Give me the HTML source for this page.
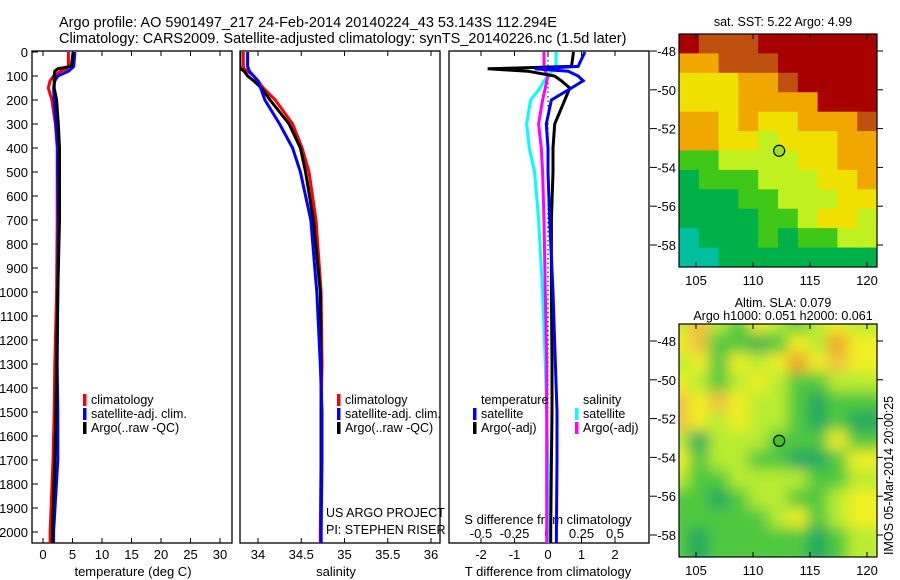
<!DOCTYPE html>
<html><head><meta charset="utf-8"><style>
body{margin:0;background:#fff;}
svg{display:block;font-family:"Liberation Sans",sans-serif;}
</style></head><body>
<svg id="fig" width="900" height="580" viewBox="0 0 900 580">
<rect width="900" height="580" fill="#fff"/>
<text x="59" y="27" font-size="14.5">Argo profile: AO 5901497_217 24-Feb-2014 20140224_43 53.143S 112.294E</text>
<text x="59" y="43" font-size="14.5">Climatology: CARS2009. Satellite-adjusted climatology: synTS_20140226.nc (1.5d later)</text>
<defs>
<clipPath id="c1"><rect x="32" y="51" width="200" height="492"/></clipPath>
<clipPath id="c2"><rect x="240" y="51" width="200" height="492"/></clipPath>
<clipPath id="c3"><rect x="449" y="51" width="200" height="492"/></clipPath>
<clipPath id="m1"><rect x="679" y="34" width="198" height="233"/></clipPath>
<clipPath id="m2"><rect x="679" y="324" width="198" height="233"/></clipPath>
<filter id="bl" x="-5%" y="-5%" width="110%" height="110%"><feGaussianBlur stdDeviation="7"/></filter>
</defs>
<g id="p1"></g>
<g id="p2"></g>
<g id="p3"></g>
<g id="maps"></g>
</svg>
<script>
const depths=[0,60,70,80,100,120,150,200,300,400,500,700,1000,1300,1500,1700,2000,2050];
const tempClim=[4.3,4.3,4.0,3.0,1.8,1.2,0.9,1.5,2.1,2.4,2.4,2.4,2.3,2.0,1.9,1.7,1.2,1.2];
const tempArgo=[5.1,4.8,2.5,2.0,1.9,1.9,1.9,2.3,2.6,2.8,2.8,2.8,2.5,2.3,2.2,2.0,1.6,1.6];
const tempSat=[5.4,5.2,4.8,4.3,2.5,2.0,1.8,1.9,2.2,2.5,2.5,2.6,2.5,2.4,2.5,2.5,1.8,1.8];
const salClim=[33.83,33.83,33.84,33.88,33.95,34.0,34.06,34.2,34.4,34.51,34.59,34.67,34.73,34.74,34.73,34.73,34.72,34.72];
const salArgo=[33.79,33.79,33.8,33.84,33.88,33.95,34.04,34.14,34.36,34.49,34.55,34.64,34.72,34.73,34.73,34.73,34.73,34.73];
const salSat=[33.88,33.88,33.89,33.9,33.95,34.0,34.03,34.08,34.25,34.4,34.49,34.61,34.68,34.72,34.74,34.74,34.73,34.73];
const dTArgo=[0.76,0.7,-1.8,-0.6,0.2,0.4,0.65,0.5,0.2,0.15,0.15,0.1,0.1,0.12,0.12,0.1,0.08,0.08];
const dTSat=[1.1,0.9,-0.4,0.6,0.9,1.05,0.7,0.1,-0.05,0.0,0.0,0.05,0.15,0.22,0.27,0.27,0.25,0.25];
const dSSat=[0.06,0.06,0.04,0.03,0.0,-0.03,-0.06,-0.13,-0.16,-0.14,-0.1,-0.07,-0.04,-0.02,-0.01,0,0.01,0.01];
const dSArgo=[-0.03,-0.03,-0.02,-0.02,0.0,-0.01,-0.02,-0.04,-0.07,-0.05,-0.04,-0.03,-0.02,-0.01,-0.01,-0.01,-0.01,-0.01];
const depthTicks=[0,100,200,300,400,500,600,700,800,900,1000,1100,1200,1300,1400,1500,1600,1700,1800,1900,2000];
const tempTicks=[0,5,10,15,20,25,30];
const salTicks=[34,34.5,35,35.5,36];
const salTickLabels=["34","34.5","35","35.5","36"];
const dTTicks=[-2,-1,0,1,2];
const dSTicks=[-0.5,-0.25,0,0.25,0.5];
const latTicks=[-48,-50,-52,-54,-56,-58];
const lonTicks=[105,110,115,120];
const sstGrid=["RrrrRRRRRR","oorrrRRRRR","yyyoorRRRR","yyyooooRRR","ooyoyyooor","ooyylyyyoo","ggllllyyoo","Gggglllyyo","GGGgglllyy","GGGGgglyyl","cGGGgGggll","ccGGGGGGGG"];
const slaGrid=["lolgylglyl","yoggmgylOy","lygylyOyoy","ylglylggll","oyoyllgGgg","oylyllgGgG","lGlllgggyg","ygllggGGgy","lggllllggl","ggGgllggly","ggggglygly","gGgggggGgl"];

const svg=document.getElementById('fig');
const NS='http://www.w3.org/2000/svg';
const Y=d=>52+d*0.24;
const xT=t=>43+t*5.9;
const xS=s=>258+(s-34)*86.5;
const xD=t=>548+t*33.5;
const xDS=s=>548+s*134;
function mk(tag,attrs,parent){const e=document.createElementNS(NS,tag);for(const k in attrs)e.setAttribute(k,attrs[k]);parent.appendChild(e);return e;}
function txt(x,y,s,size,anchor,parent){const t=mk('text',{x:x,y:y,'font-size':size,'text-anchor':anchor||'start'},parent);t.textContent=s;return t;}
function stepPath(vals,fx){let d='';for(let i=0;i<depths.length;i++){const x=fx(vals[i]).toFixed(1),y=Y(depths[i]).toFixed(1);d+=(i?'L':'M')+x+','+y;}return d;}
function series(parent,vals,fx,color,name,clip){const p=mk('path',{d:stepPath(vals,fx),fill:'none',stroke:color,'stroke-width':3,'clip-path':'url(#'+clip+')'},parent);}

const p1=document.getElementById('p1'),p2=document.getElementById('p2'),p3=document.getElementById('p3');
[[p1,32,'frame-temperature'],[p2,240,'frame-salinity'],[p3,449,'frame-difference']].forEach(([g,x,n])=>{const r=mk('rect',{x:x,y:51,width:200,height:492,fill:'none',stroke:'#000','stroke-width':1.3},g);});
depthTicks.forEach(d=>{mk('line',{x1:32,x2:38,y1:Y(d),y2:Y(d),stroke:'#000'},p1);const t=txt(28,Y(d)+5,String(d),13,'end',p1);});
tempTicks.forEach(v=>{const x=xT(v);mk('line',{x1:x,x2:x,y1:51,y2:56,stroke:'#000'},p1);mk('line',{x1:x,x2:x,y1:538,y2:543,stroke:'#000'},p1);const t=txt(x,559,String(v),13,'middle',p1);});
const xt1=txt(133,576,'temperature (deg C)',13,'middle',p1);
salTicks.forEach((v,i)=>{const x=xS(v);mk('line',{x1:x,x2:x,y1:51,y2:56,stroke:'#000'},p2);mk('line',{x1:x,x2:x,y1:538,y2:543,stroke:'#000'},p2);const t=txt(x,559,salTickLabels[i],13,'middle',p2);});
const xt2=txt(336,576,'salinity',13,'middle',p2);
dTTicks.forEach(v=>{const x=xD(v);mk('line',{x1:x,x2:x,y1:51,y2:56,stroke:'#000'},p3);mk('line',{x1:x,x2:x,y1:538,y2:543,stroke:'#000'},p3);const t=txt(x,559,String(v),13,'middle',p3);});
dSTicks.forEach(v=>{const t=txt(xDS(v),538,String(v),13,'middle',p3);});
const xt3=txt(548,576,'T difference from climatology',13,'middle',p3);
const xt4=txt(548,524,'S difference from climatology',13,'middle',p3);
mk('line',{x1:548,x2:548,y1:51,y2:543,stroke:'#000','stroke-dasharray':'1.5,3'},p3);
series(p1,tempClim,xT,'#f00','temp-climatology-line','c1');
series(p1,tempSat,xT,'#00f','temp-satellite-line','c1');
series(p1,tempArgo,xT,'#000','temp-argo-line','c1');
series(p2,salClim,xS,'#f00','sal-climatology-line','c2');
series(p2,salArgo,xS,'#000','sal-argo-line','c2');
series(p2,salSat,xS,'#00f','sal-satellite-line','c2');
series(p3,dSSat,xDS,'#0ff','dS-satellite-line','c3');
series(p3,dSArgo,xDS,'#f0f','dS-argo-line','c3');
series(p3,dTArgo,xD,'#000','dT-argo-line','c3');
series(p3,dTSat,xD,'#00f','dT-satellite-line','c3');
function leg(g,x,y,color,label,name){mk('rect',{x:x,y:y-10,width:3.5,height:12,fill:color},g);const t=txt(x+8,y,label,12.5,'start',g);}
leg(p1,83,404,'#f00','climatology','legend-climatology');leg(p1,83,418,'#00f','satellite-adj. clim.','legend-satellite');leg(p1,83,432,'#000','Argo(..raw -QC)','legend-argo');
leg(p2,337,404,'#f00','climatology','legend-climatology-2');leg(p2,337,418,'#00f','satellite-adj. clim.','legend-satellite-2');leg(p2,337,432,'#000','Argo(..raw -QC)','legend-argo-2');
txt(481,404,'temperature',12.5,'start',p3);txt(583,404,'salinity',12.5,'start',p3);
leg(p3,473,418,'#00f','satellite','legend-dT-satellite');leg(p3,473,432,'#000','Argo(-adj)','legend-dT-argo');
leg(p3,575,418,'#0ff','satellite','legend-dS-satellite');leg(p3,575,432,'#f0f','Argo(-adj)','legend-dS-argo');
const us=txt(326,517,'US ARGO PROJECT',12.5,'start',p2);
const pi=txt(326,534,'PI: STEPHEN RISER',12.5,'start',p2);

const maps=document.getElementById('maps');
const sstPal={R:'#a80000',r:'#c05010',o:'#f0a800',y:'#f0e000',l:'#c0f020',g:'#40c818',G:'#00b048',c:'#00c0a0'};
const slaPal={o:'#f0c040',O:'#f0a030',y:'#f0f020',l:'#b8ec30',g:'#50c840',G:'#20a860',m:'#40b050'};
function drawMap(top,grid,pal,name,clip,blur,title1,title2){
 const g=mk('g',{},maps);
 const cg=mk('g',{'clip-path':'url(#'+clip+')'},g);
 const inner=mk('g',blur?{filter:'url(#bl)'}:{},cg);
 const rows=grid.length,cols=grid[0].length,cw=198/cols,ch=233/rows;
 grid.forEach((row,r)=>{for(let c=0;c<cols;c++){mk('rect',{x:679+c*cw-(blur?10:0),y:top+r*ch-(blur?10:0),width:cw+(blur?20:0.5),height:ch+(blur?20:0.5),fill:pal[row[c]]},inner);}});
 mk('rect',{x:679,y:top,width:198,height:233,fill:'none',stroke:'#000','stroke-width':1.2},g);
 const latY=v=>top+17+(-48-v)*19.4;
 const lonX=v=>696+(v-105)*11.4;
 latTicks.forEach(v=>{const y=latY(v);mk('line',{x1:650,x2:657,y1:y,y2:y,stroke:'#000'},g);mk('line',{x1:877,x2:883,y1:y,y2:y,stroke:'#000'},g);const t=txt(676,y+5,String(v),13,'end',g);});
 lonTicks.forEach(v=>{const x=lonX(v);mk('line',{x1:x,x2:x,y1:top+233,y2:top+228,stroke:'#000'},g);mk('line',{x1:x,x2:x,y1:top,y2:top+5,stroke:'#000'},g);const t=txt(x,top+251,String(v),13,'middle',g);});
 const c=mk('circle',{cx:lonX(112.294),cy:latY(-53.143),r:5.5,fill:blur?'#40c828':'#a0e020',stroke:'#000','stroke-width':1.2},g);
 if(title2){const t=txt(783,top-17,title1,12.5,'middle',g);const t2=txt(783,top-4,title2,12.5,'middle',g);}
 else{const t=txt(783,top-8,title1,12.5,'middle',g);}
}
drawMap(34,sstGrid,sstPal,'sst-map','m1',false,'sat. SST: 5.22 Argo: 4.99');
drawMap(324,slaGrid,slaPal,'sla-map','m2',true,'Altim. SLA: 0.079','Argo h1000: 0.051 h2000: 0.061');
const imos=txt(0,0,'IMOS 05-Mar-2014 20:00:25',12.5,'start',maps);
imos.setAttribute('transform','translate(893,555) rotate(-90)');


</script>
</body></html>
